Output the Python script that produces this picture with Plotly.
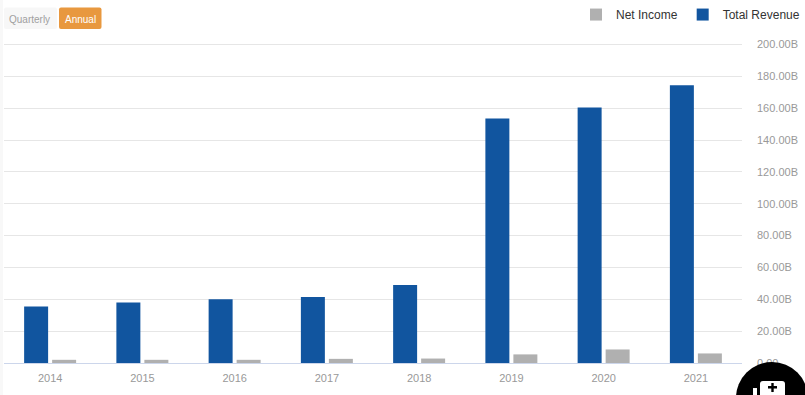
import plotly.graph_objects as go

years = ["2014", "2015", "2016", "2017", "2018", "2019", "2020", "2021"]
total_revenue = [35.5, 38, 40, 41.5, 49, 153.5, 160.5, 174.5]
net_income = [2, 2, 2, 2.6, 2.8, 5.4, 8.5, 6]
tick_vals = [0, 20, 40, 60, 80, 100, 120, 140, 160, 180, 200]
tick_text = ["0.00", "20.00B", "40.00B", "60.00B", "80.00B", "100.00B", "120.00B",
             "140.00B", "160.00B", "180.00B", "200.00B"]

W, H = 805, 395
Y_MAX = 201
L, R, B = 4, 742, 363
T = B - Y_MAX * 1.59
FONT = "Liberation Sans, Arial, sans-serif"


def px(x):
    return (x - L) / (R - L)


def py(y):
    return (B - y) / (B - T)


def rounded(x0, y0, x1, y1, r, fill):
    X = lambda v: f"{px(v):.5f}"
    Y = lambda v: f"{py(v):.5f}"
    path = (f"M{X(x0 + r)},{Y(y0)} L{X(x1 - r)},{Y(y0)} Q{X(x1)},{Y(y0)} {X(x1)},{Y(y0 + r)} "
            f"L{X(x1)},{Y(y1 - r)} Q{X(x1)},{Y(y1)} {X(x1 - r)},{Y(y1)} "
            f"L{X(x0 + r)},{Y(y1)} Q{X(x0)},{Y(y1)} {X(x0)},{Y(y1 - r)} "
            f"L{X(x0)},{Y(y0 + r)} Q{X(x0)},{Y(y0)} {X(x0 + r)},{Y(y0)} Z")
    return dict(type="path", xref="paper", yref="paper", path=path, fillcolor=fill, line_width=0, layer="above")


fig = go.Figure()
fig.add_bar(name="Total Revenue", x=years, y=total_revenue, marker=dict(color="#11559f", line_width=0))
fig.add_bar(name="Net Income", x=years, y=net_income, marker=dict(color="#b0b0b0", line_width=0))

shapes = [
    dict(type="rect", xref="paper", yref="paper", x0=px(0), x1=px(3), y0=py(0), y1=py(395),
         fillcolor="#f8f8f8", line_width=0, layer="below"),
    rounded(4, 8, 57, 29.5, 2, "#f7f7f7"),
    rounded(59, 8, 101.5, 29.5, 2, "#e8983f"),
    dict(type="circle", xref="paper", yref="paper", x0=px(736), x1=px(808), y0=py(362), y1=py(434),
         fillcolor="#000", line_width=0, layer="above"),
    rounded(760, 381, 785, 405, 3, "#fff"),
    dict(type="rect", xref="paper", yref="paper", x0=px(753), x1=px(757), y0=py(388), y1=py(400),
         fillcolor="#fff", line_width=0, layer="above"),
    dict(type="rect", xref="paper", yref="paper", x0=px(768), x1=px(777), y0=py(386), y1=py(388.5),
         fillcolor="#000", line_width=0, layer="above"),
    dict(type="rect", xref="paper", yref="paper", x0=px(771.3), x1=px(773.7), y0=py(383), y1=py(392),
         fillcolor="#000", line_width=0, layer="above"),
]

annotations = [
    dict(text="Quarterly", xref="paper", yref="paper", x=px(30), y=py(19.5), xanchor="center", yanchor="middle",
         showarrow=False, font=dict(family=FONT, size=10, color="#a0a0a0")),
    dict(text="Annual", xref="paper", yref="paper", x=px(80), y=py(19.5), xanchor="center", yanchor="middle",
         showarrow=False, font=dict(family=FONT, size=10, color="#ffffff")),
]

fig.update_layout(
    width=W, height=H,
    margin=dict(l=L, r=W - R, t=T, b=H - B, autoexpand=False),
    paper_bgcolor="#ffffff", plot_bgcolor="#ffffff",
    barmode="group", bargap=0.393, bargroupgap=0.143,
    font=dict(family=FONT, size=11, color="#999999"),
    showlegend=True,
    legend=dict(orientation="h", traceorder="reversed", x=px(576), xanchor="left", y=py(15), yanchor="middle",
                font=dict(family=FONT, size=12, color="#333333"),
                itemclick=False, itemdoubleclick=False, bgcolor="rgba(0,0,0,0)"),
    xaxis=dict(type="category", showgrid=False, showline=True, linecolor="#ccd6eb", linewidth=1,
               ticks="", ticklabelstandoff=5, tickfont=dict(family=FONT, size=11, color="#999999"),
               fixedrange=True),
    yaxis=dict(range=[0, Y_MAX], side="right", tickvals=tick_vals, ticktext=tick_text,
               showgrid=True, gridcolor="#e6e6e6", gridwidth=1, zeroline=False, showline=False,
               ticks="", ticklabelstandoff=14, tickfont=dict(family=FONT, size=11, color="#999999"),
               fixedrange=True),
    shapes=shapes, annotations=annotations,
)

fig.write_html("out.html", config={"displayModeBar": False},
               post_script="document.body.style.margin='0';document.documentElement.style.overflow='hidden';")
